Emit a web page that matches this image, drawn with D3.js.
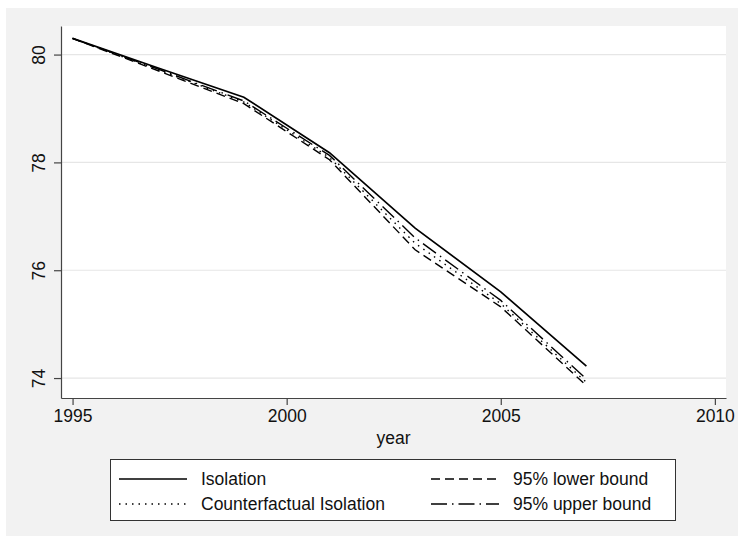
<!DOCTYPE html>
<html>
<head>
<meta charset="utf-8">
<script src="https://cdn.jsdelivr.net/npm/d3@7"></script>
<style>
  body { margin: 0; background: #ffffff; }
  text { font-family: "Liberation Sans", Arial, Helvetica, sans-serif; fill: #111; }
</style>
</head>
<body>
<div id="graph"></div>
<script>
// values
const years = [1995, 1997, 1999, 2001, 2003, 2005, 2007];
const isolation      = [80.30, 79.75, 79.21, 78.18, 76.78, 75.60, 74.22];
const counterfactual = [80.30, 79.72, 79.12, 78.09, 76.50, 75.38, 73.92];
const lowerBound     = [80.30, 79.70, 79.09, 78.05, 76.38, 75.32, 73.86];
const upperBound     = [80.30, 79.73, 79.14, 78.13, 76.60, 75.44, 73.98];
const xTicks = [1995, 2000, 2005, 2010];
const yTicks = [74, 76, 78, 80];

// series names + line dash, matched by index to the arrays above
const seriesNames = ["Isolation", "Counterfactual Isolation", "95% lower bound", "95% upper bound"];
const seriesValues = [isolation, counterfactual, lowerBound, upperBound];

const width = 738, height = 542;
// plot region (white area)
const plot = {left: 61, top: 26, right: 726, bottom: 398};

const svg = d3.select("#graph")
  .append("svg")
  .attr("width", width)
  .attr("height", height);

// light gray outer background
svg.append("rect")
  .attr("x", 6).attr("y", 8)
  .attr("width", width - 6).attr("height", 528)
  .attr("fill", "#f2f2f2");

svg.append("rect")
  .attr("x", plot.left).attr("y", plot.top)
  .attr("width", plot.right - plot.left).attr("height", plot.bottom - plot.top)
  .attr("fill", "#ffffff");

const x = d3.scaleLinear()
  .domain([1994.73, 2010.26])
  .range([plot.left, plot.right]);

const y = d3.scaleLinear()
  .domain([73.63, 80.53])
  .range([plot.bottom, plot.top]);

// horizontal grid lines
svg.append("g")
  .selectAll("line")
  .data(yTicks)
  .enter().append("line")
    .attr("x1", plot.left).attr("x2", plot.right)
    .attr("y1", d => y(d)).attr("y2", d => y(d))
    .attr("stroke", "#e6e6e6")
    .attr("stroke-width", 1.2);

// x axis
const xAxis = svg.append("g")
  .attr("transform", "translate(0," + plot.bottom + ")")
  .call(d3.axisBottom(x).tickValues(xTicks).tickFormat(d3.format("d")).tickSize(7).tickSizeOuter(0));
xAxis.select(".domain").attr("stroke", "#444").attr("stroke-width", 1.2);
xAxis.selectAll(".tick line").attr("stroke", "#444").attr("stroke-width", 1.2);
xAxis.selectAll(".tick text")
  .attr("y", 12)
  .attr("font-size", "17.5px")
  .attr("font-family", "Liberation Sans, Arial, sans-serif")
  .attr("fill", "#111");

// y axis, labels rotated like Stata does
const yAxis = svg.append("g")
  .attr("transform", "translate(" + plot.left + ",0)")
  .call(d3.axisLeft(y).tickValues(yTicks).tickFormat(d3.format("d")).tickSize(7).tickSizeOuter(0));
yAxis.select(".domain").attr("stroke", "#444").attr("stroke-width", 1.2);
yAxis.selectAll(".tick line").attr("stroke", "#444").attr("stroke-width", 1.2);
yAxis.selectAll(".tick text")
  .attr("x", null).attr("dy", null)
  .attr("transform", "translate(-16,0) rotate(-90)")
  .attr("text-anchor", "middle")
  .attr("font-size", "17.5px")
  .attr("font-family", "Liberation Sans, Arial, sans-serif")
  .attr("fill", "#111");

// x axis title
svg.append("text")
  .attr("x", (plot.left + plot.right) / 2)
  .attr("y", 444)
  .attr("text-anchor", "middle")
  .attr("font-size", "17.5px")
  .text("year");

const dashes = [null, "1.5,5", "9,5", "16,5,1.5,5"];
const widths = [1.7, 1.4, 1.4, 1.4];

const line = d3.line()
  .x((d, i) => x(years[i]))
  .y(d => y(d));

// draw the bounds and counterfactual first, solid line on top
[3, 2, 1, 0].forEach(function(k) {
  svg.append("path")
    .datum(seriesValues[k])
    .attr("fill", "none")
    .attr("stroke", "#000")
    .attr("stroke-width", widths[k])
    .attr("stroke-dasharray", dashes[k])
    .attr("d", line);
});

// legend
const legend = svg.append("g");
legend.append("rect")
  .attr("x", 110.5).attr("y", 459.5)
  .attr("width", 565).attr("height", 61)
  .attr("fill", "#ffffff")
  .attr("stroke", "#333")
  .attr("stroke-width", 1);

const legendPos = [
  {x: 119, y: 479}, {x: 119, y: 504},
  {x: 431, y: 479}, {x: 431, y: 504}
];

seriesNames.forEach(function(name, k) {
  const p = legendPos[k];
  legend.append("line")
    .attr("x1", p.x).attr("x2", p.x + 68)
    .attr("y1", p.y).attr("y2", p.y)
    .attr("stroke", "#000")
    .attr("stroke-width", widths[k])
    .attr("stroke-dasharray", dashes[k]);
  legend.append("text")
    .attr("x", p.x + 82)
    .attr("y", p.y + 6)
    .attr("font-size", "17.5px")
    .text(name);
});
</script>
</body>
</html>
